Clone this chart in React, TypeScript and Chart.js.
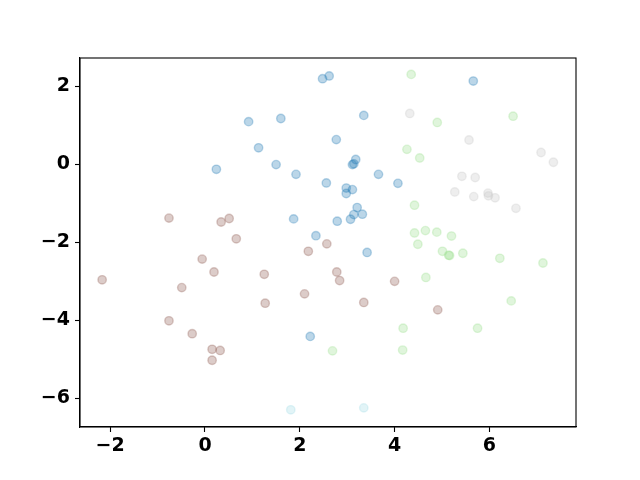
import React, { useEffect, useRef } from "react";
import { Chart, registerables } from "chart.js";

Chart.register(...registerables);

// Cluster 0 (blue)
const cluster0X = [2.48, 2.62, 0.92, 1.60, 1.13, 0.24, 1.50, 1.92, 5.66, 3.35, 2.77, 3.18, 3.11, 3.14, 3.66, 4.07, 2.56, 2.98, 3.11, 2.98, 3.21, 3.32, 3.14, 3.07, 2.79, 1.87, 2.34, 3.42, 2.22];
const cluster0Y = [2.19, 2.26, 1.09, 1.17, 0.42, -0.13, -0.01, -0.26, 2.13, 1.25, 0.63, 0.12, -0.01, 0.01, -0.26, -0.49, -0.48, -0.61, -0.65, -0.75, -1.11, -1.28, -1.29, -1.41, -1.46, -1.40, -1.83, -2.26, -4.41];

// Cluster 1 (light green)
const cluster1X = [4.35, 4.90, 6.50, 4.26, 4.53, 4.42, 4.42, 4.65, 4.89, 5.20, 4.49, 5.01, 5.14, 5.16, 5.44, 6.22, 7.13, 4.66, 6.46, 4.18, 5.75, 2.69, 4.17];
const cluster1Y = [2.30, 1.07, 1.23, 0.38, 0.16, -1.05, -1.76, -1.70, -1.74, -1.84, -2.05, -2.23, -2.33, -2.34, -2.28, -2.41, -2.53, -2.90, -3.50, -4.20, -4.20, -4.78, -4.76];

// Cluster 2 (brown)
const cluster2X = [-0.76, 0.34, 0.51, 0.66, 2.57, 2.18, -0.06, 0.19, 1.25, -2.17, -0.49, 2.10, 1.27, -0.76, -0.27, 0.15, 0.32, 0.15, 2.78, 2.84, 4.00, 3.35, 4.91];
const cluster2Y = [-1.38, -1.48, -1.39, -1.91, -2.04, -2.23, -2.43, -2.76, -2.82, -2.96, -3.16, -3.32, -3.56, -4.01, -4.34, -4.74, -4.77, -5.02, -2.76, -2.98, -3.00, -3.54, -3.73];

// Cluster 3 (light grey)
const cluster3X = [4.32, 5.57, 7.09, 7.35, 5.42, 5.70, 5.27, 5.67, 5.97, 5.98, 6.12, 6.56];
const cluster3Y = [1.30, 0.62, 0.30, 0.05, -0.31, -0.34, -0.71, -0.83, -0.74, -0.81, -0.86, -1.13];

// Cluster 4 (light cyan)
const cluster4X = [1.81, 3.35];
const cluster4Y = [-6.29, -6.24];

const xTicks = [-2, 0, 2, 4, 6];
const yTicks = [-6, -4, -2, 0, 2];

const clusterColors = ["31,119,180", "152,223,138", "140,86,75", "199,199,199", "158,218,229"];

function toPoints(xs: number[], ys: number[]) {
  return xs.map((x, i) => ({ x, y: ys[i] }));
}

const fmt = (v: number) => (v < 0 ? "\u2212" + Math.abs(v) : String(v));

const framePlugin = {
  id: "frame",
  afterDraw(chart: any) {
    const { ctx, chartArea } = chart;
    ctx.save();
    ctx.strokeStyle = "#000";
    ctx.lineWidth = 1.1;
    ctx.strokeRect(chartArea.left, chartArea.top, chartArea.right - chartArea.left, chartArea.bottom - chartArea.top);
    ctx.restore();
  },
};

export default function App() {
  const ref = useRef<HTMLCanvasElement | null>(null);
  useEffect(() => {
    document.body.style.margin = "0";
    const all = [
      [cluster0X, cluster0Y],
      [cluster1X, cluster1Y],
      [cluster2X, cluster2Y],
      [cluster3X, cluster3Y],
      [cluster4X, cluster4Y],
    ];
    const datasets = all.map(([xs, ys], i) => ({
      data: toPoints(xs, ys),
      backgroundColor: `rgba(${clusterColors[i]},0.3)`,
      borderColor: `rgba(${clusterColors[i]},0.3)`,
      borderWidth: 1.4,
      pointRadius: 4.2,
      pointHoverRadius: 4.2,
    }));
    const font = { family: "'DejaVu Sans', sans-serif", size: 19, weight: "bold" as const };
    const chart = new Chart(ref.current as HTMLCanvasElement, {
      type: "scatter",
      data: { datasets },
      plugins: [framePlugin],
      options: {
        animation: false,
        responsive: false,
        devicePixelRatio: 1,
        layout: { padding: { left: 0, right: 64, top: 58, bottom: 0 } },
        plugins: { legend: { display: false }, tooltip: { enabled: false } },
        scales: {
          x: {
            type: "linear",
            min: -2.637,
            max: 7.827,
            afterBuildTicks: (s: any) => {
              s.ticks = xTicks.map((v) => ({ value: v }));
            },
            afterFit: (s: any) => {
              s.height = 53;
            },
            grid: { drawOnChartArea: false, drawTicks: true, tickLength: 5, tickWidth: 1.1, tickColor: "#000" },
            border: { color: "#000", width: 1.1 },
            ticks: { color: "#000", font, padding: 3, callback: (v: any) => fmt(Number(v)), maxRotation: 0 },
          },
          y: {
            type: "linear",
            min: -6.73,
            max: 2.72,
            afterBuildTicks: (s: any) => {
              s.ticks = yTicks.map((v) => ({ value: v }));
            },
            afterFit: (s: any) => {
              s.width = 80;
            },
            grid: { drawOnChartArea: false, drawTicks: true, tickLength: 5, tickWidth: 1.1, tickColor: "#000" },
            border: { color: "#000", width: 1.1 },
            ticks: { color: "#000", font, padding: 5, callback: (v: any) => fmt(Number(v)) },
          },
        },
      },
    });
    return () => chart.destroy();
  }, []);
  return (
    <div style={{ width: 640, height: 480, background: "#fff" }}>
      <canvas ref={ref} width={640} height={480} style={{ display: "block" }} />
    </div>
  );
}
